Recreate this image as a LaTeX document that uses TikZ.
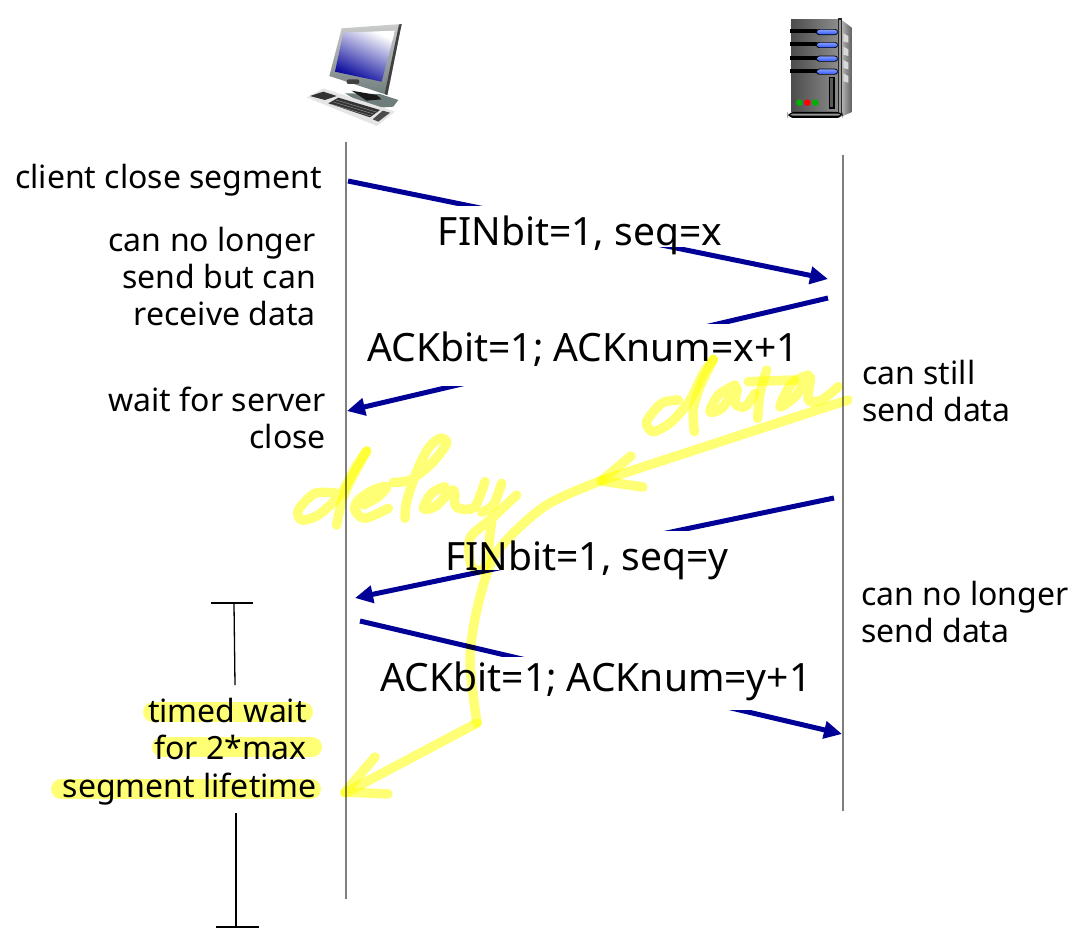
\documentclass[tikz,border=0pt]{standalone}
\usepackage{fontspec}
\setmainfont{Noto Sans}
\usetikzlibrary{arrows.meta,positioning,calc}
\definecolor{msgblue}{RGB}{0,0,150}
\definecolor{marker}{RGB}{255,255,118}
\definecolor{bezel}{RGB}{112,125,125}
\definecolor{ledblue}{RGB}{50,90,255}
\tikzset{
  lbl/.style={inner sep=0pt, font=\fontsize{32}{37}\selectfont},
  msglbl/.style={inner sep=0pt, font=\fontsize{39}{39}\selectfont, anchor=base, fill=white},
  msg/.style={draw=msgblue, line width=5pt, -{Triangle[length=18pt,width=17pt]}},
  timeline/.style={draw=black!50, line width=1.4pt},
  timer/.style={draw=black, line width=1.3pt},
  inkline/.style={draw=marker, line width=9.5pt, line cap=round, line join=round, blend mode=multiply},
  band/.style={draw=marker, line width=20pt, line cap=round, blend mode=multiply}
}
\begin{document}
\begin{tikzpicture}[x=1pt,y=-1pt]
\useasboundingbox (0,0) rectangle (1086,946);

% Client icon
\begin{scope}[shift={(280,0)},scale=0.3333]
\shade[top color=black!20, bottom color=bezel] (185,85) -- (365,72) -- (322,285) -- (148,228) -- cycle;
\fill[black!75] (365,72) -- (322,285) -- (314,282) -- (357,74) -- cycle;
\begin{scope}
\clip (190,98) -- (345,92) -- (305,245) -- (165,215) -- cycle;
\shade[left color=white, middle color=blue!30!black!35, right color=blue!60!black, shading angle=-25] (165,92) rectangle (345,245);
\end{scope}
\fill[black!75, rounded corners=2pt] (200,238) rectangle (238,252);
\fill[bezel] (195,280) -- (300,282) -- (355,300) -- (340,320) -- (270,325) -- cycle;
\fill[black!90] (215,272) -- (290,285) -- (305,298) -- (260,302) -- cycle;
\fill[black!10] (130,265) -- (345,335) -- (290,378) -- (80,292) -- cycle;
\fill[black!80] (130,275) -- (170,288) -- (135,300) -- (90,288) -- cycle;
\fill[black!80] (175,293) -- (300,330) -- (270,352) -- (145,310) -- cycle;
\fill[black!70] (308,332) -- (330,338) -- (295,365) -- (278,358) -- cycle;
\foreach \k in {0,1,2} {
  \draw[black!40, line width=0.4pt] (168-\k*8,300+\k*6) -- (292-\k*8,337+\k*6);
}
\end{scope}

% Server icon
\begin{scope}[shift={(760,0)},scale=0.3333]
\shade[left color=black!70, right color=black!45] (93,58) rectangle (235,335);
\shade[left color=black!30, right color=black!65] (245,60) -- (278,85) -- (278,335) -- (245,350) -- cycle;
\foreach \y in {100,140,180,220} {
  \fill[black!15] (250,\y) -- (265,\y+8) -- (265,\y+28) -- (250,\y+24) -- cycle;
}
\fill[black!85] (233,55) rectangle (247,345);
\fill[black!40] (237,60) rectangle (243,340);
\fill[black, rounded corners=6pt] (83,336) rectangle (248,354);
\fill[black!40, rounded corners=2pt] (92,341) rectangle (240,347);
\foreach \y in {96,135,176,215} {
  \draw[line width=4pt, black] (90,\y-2) -- (170,\y-2);
  \fill[black, rounded corners=3pt] (168,\y-9) rectangle (234,\y+9);
  \shade[top color=ledblue!60!white, bottom color=ledblue, rounded corners=3pt] (171,\y-7) rectangle (232,\y+7);
}
\fill[black] (207,230) rectangle (224,327);
\fill[black!65] (211,235) rectangle (220,322);
\fill[green!70!black] (118,308) circle (10);
\fill[red] (142,308) circle (10);
\fill[green!70!black] (166,308) circle (10);
\end{scope}

% Timelines
\coordinate (cltop) at (346,142);
\coordinate (clbot) at (346,899);
\coordinate (srvtop) at (843,155);
\coordinate (srvbot) at (843,811);
\draw[timeline] (cltop) -- (clbot);
\draw[timeline] (srvtop) -- (srvbot);

% Messages
\coordinate (fina) at (348,181);
\coordinate (finb) at (828,279);
\coordinate (acka) at (828,298);
\coordinate (ackb) at (347,411);
\coordinate (finc) at (834,498);
\coordinate (find) at (355,598);
\coordinate (ackc) at (360,621);
\coordinate (ackd) at (842,734);
\draw[msg] (fina) -- (finb);
\draw[msg] (acka) -- (ackb);
\draw[msg] (finc) -- (find);
\draw[msg] (ackc) -- (ackd);
\node[msglbl, text height=39pt, text depth=2pt] (finx) at (580,245) {FINbit=1, seq=x};
\node[msglbl, text height=37pt, text depth=25pt] (ackx) at (583,361) {ACKbit=1; ACKnum=x+1};
\node[msglbl, text height=39.5pt, text depth=0pt] (finy) at (587,570) {FINbit=1, seq=y};
\node[msglbl, text height=34pt, text depth=19pt] (acky) at (596,691) {ACKbit=1; ACKnum=y+1};

% Side labels
\node[lbl, anchor=base east] (clclose) at (322,188) {client close segment};
\node[lbl, anchor=east, align=right] (nosend) at (316,276) {can no longer\\send but can\\receive data};
\node[lbl, anchor=east, align=right] (waitsrv) at (326,418) {wait for server\\close};
\node[lbl, anchor=west, align=left] (stillsend) at (862,391) {can still\\send data};
\node[lbl, anchor=west, align=left] (nomore) at (861,612) {can no longer\\send data};

% Timed wait
\coordinate (topa) at (211,603);
\coordinate (topb) at (253,603);
\coordinate (topc) at (234,604);
\coordinate (topd) at (235,685);
\coordinate (bota) at (236,813);
\coordinate (botb) at (236,927);
\coordinate (botc) at (216,927);
\coordinate (botd) at (259,927);
\draw[timer] (topa) -- (topb);
\draw[timer] (topc) -- (topd);
\draw[timer] (bota) -- (botb);
\draw[timer] (botc) -- (botd);
\node[lbl, anchor=base east] (waita) at (307,722) {timed wait};
\node[lbl, anchor=base east] (waitb) at (307,759) {for 2*max};
\node[lbl, anchor=base east] (waitc) at (317,797) {segment lifetime};

% Highlighter
\draw[band] (153,712) -- (303,712);
\draw[band] (162,747) -- (312,747);
\draw[band] (61,789) -- (311,789);
% data
\begin{scope}[shift={(635,350)},scale=0.3333]
\draw[inkline] plot[smooth] coordinates {(130,150) (80,160) (35,215) (55,245) (110,215) (165,150) (205,70) (235,28)};
\draw[inkline] plot[smooth] coordinates {(235,28) (195,110) (175,180) (178,245)};
\draw[inkline] plot[smooth] coordinates {(300,105) (250,135) (225,185) (260,175) (305,115) (300,160) (330,170) (360,130)};
\draw[inkline] plot[smooth] coordinates {(395,60) (375,130) (368,205)};
\draw[inkline] (340,95) -- (480,90);
\draw[inkline] plot[smooth] coordinates {(520,75) (470,100) (435,170) (480,140) (525,80) (520,150) (560,150) (610,110)};
\end{scope}
% delay
\begin{scope}[shift={(285,425)},scale=0.3333]
\draw[inkline] plot[smooth] coordinates {(155,205) (90,205) (40,255) (50,285) (100,270) (165,210) (210,130) (245,78)};
\draw[inkline] plot[smooth] coordinates {(245,78) (195,170) (170,230) (155,300)};
\draw[inkline] plot[smooth] coordinates {(235,240) (280,215) (305,185) (265,195) (220,225) (210,255) (240,280) (310,250)};
\draw[inkline] plot[smooth] coordinates {(325,172) (375,165) (440,115) (485,55) (465,40) (430,70) (395,140) (365,230) (360,280)};
\draw[inkline] plot[smooth] coordinates {(480,185) (440,205) (415,250) (450,245) (505,195) (510,240) (530,252) (570,245) (600,170)};
\draw[inkline] plot[smooth] coordinates {(650,175) (625,240) (590,262)};
\draw[inkline] plot[smooth] coordinates {(695,210) (615,285) (555,340) (560,425) (600,425) (620,285)};
\end{scope}
% arrow from the server
\coordinate (inka) at (848,400);
\coordinate (inkb) at (603,480);
\draw[inkline] (inka) -- (inkb);
\draw[inkline] (631,456) -- (601,481) -- (643,487);
\draw[inkline] plot[smooth] coordinates {(603,480) (545,506) (497,552) (478,605) (470,660) (477,723)};
\draw[inkline] (477,723) -- (345,793);
\draw[inkline] (375,757) -- (345,792) -- (388,794);
\end{tikzpicture}
\end{document}
